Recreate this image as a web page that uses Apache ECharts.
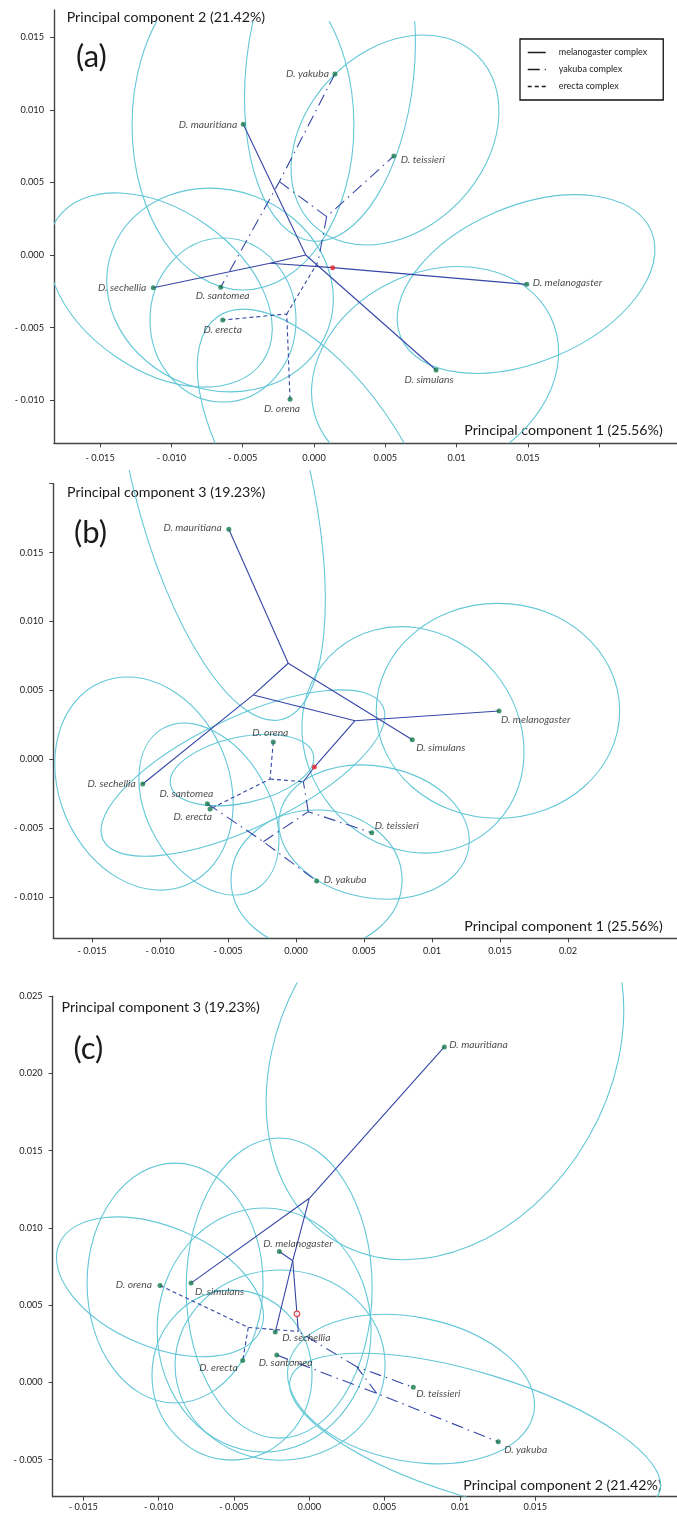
<!DOCTYPE html>
<html><head><meta charset="utf-8">
<script src="https://cdn.jsdelivr.net/npm/echarts@6/dist/echarts.min.js"></script>
<style>html,body{margin:0;padding:0;background:#fff}#c{width:677px;height:1515px}</style>
</head><body><div id="c"></div>
<script>
var speciesKeys = ['mel','sim','mau','sec','yak','tei','san','ere','ore'];
var speciesNames = ['D. melanogaster','D. simulans','D. mauritiana','D. sechellia','D. yakuba','D. teissieri','D. santomea','D. erecta','D. orena'];
var complexNames = ['melanogaster complex','yakuba complex','erecta complex'];

// ---------- panel (a): PC1 x PC2 ----------
var aX = [0.01492, 0.00856, -0.00496, -0.01127, 0.00147, 0.00560, -0.00654, -0.00640, -0.00168];
var aY = [-0.00202, -0.00792, 0.00900, -0.00225, 0.01247, 0.00682, -0.00222, -0.00448, -0.00994];
var aRed = [0.00131, -0.00087];
var aNodes = {N1:[-0.00058,0.0], N2:[-0.00309,-0.00057], Y1:[-0.00243,0.00505], Y2:[0.00089,0.00264], R:[0.00028,-0.00048], E1:[-0.00191,-0.00406]};
// ellipses: [cx, cy, semi-axis a, semi-axis b, angle deg]
var aEll = [
 [0.00568, 0.00792, 0.00827, 0.00624, 46],
 [0.01487, -0.00200, 0.00954, 0.00547, 23],
 [0.00849, -0.00806, 0.00898, 0.00701, 25],
 [0.00028, -0.01412, 0.01227, 0.00575, -55],
 [-0.00498, 0.00895, 0.00778, 0.01157, 0],
 [0.00112, 0.01274, 0.01206, 0.00589, 84],
 [-0.01080, -0.00241, 0.00877, 0.00561, -35],
 [-0.00659, -0.00241, 0.00806, 0.00701, -20],
 [-0.00638, -0.00448, 0.00512, 0.00575, 0]
];
var aPaths = [
 [['mau','N1'],['sec','N2','N1'],['N1','sim'],['N2','red','mel']],
 [['yak','Y1','san'],['Y1','Y2','tei'],['Y2','R']],
 [['ore','E1','ere'],['E1','R']]
];
var xTicksA = [-0.015,-0.01,-0.005,0,0.005,0.01,0.015,0.02];
var xLabA = ['- 0.015','- 0.010','- 0.005','0.000','0.005','0.01','0.015',''];
var yTicksA = [-0.01,-0.005,0,0.005,0.01,0.015];
var yLabA = ['- 0.010','- 0.005','0.000','0.005','0.010','0.015'];

// ---------- panel (b): PC1 x PC3 ----------
var bX = [0.01493, 0.00855, -0.00494, -0.01127, 0.00152, 0.00557, -0.00652, -0.00632, -0.00167];
var bY = [0.00351, 0.00142, 0.01669, -0.00179, -0.00883, -0.00533, -0.00322, -0.00361, 0.00126];
var bRed = [0.00135, -0.00056];
var bNodes = {B1:[-0.00057,0.00697], B2:[-0.00314,0.00467], B3:[0.00434,0.0028], R:[0.00054,-0.00163], E1:[-0.00191,-0.00143], Y1:[-0.0024,-0.00598], Y2:[0.0009,-0.0038]};
var bEll = [
 [0.01485, 0.00352, 0.00895, 0.00790, 0],
 [0.00860, 0.00141, 0.00868, 0.00779, -50],
 [0.00574, -0.00528, 0.00706, 0.00485, -10],
 [0.00151, -0.00876, 0.00629, 0.00515, 0],
 [-0.01118, -0.00176, 0.00809, 0.00624, -67],
 [-0.00640, -0.00361, 0.00683, 0.00445, -60],
 [-0.00390, -0.00100, 0.01140, 0.00404, 25.5],
 [-0.00397, -0.00078, 0.00537, 0.00243, 12],
 [-0.00559, 0.02085, 0.01875, 0.00647, 104]
];
var bPaths = [
 [['mau','B1'],['B1','B2','sec'],['B1','sim'],['B2','B3'],['B3','mel'],['B3','red','R']],
 [['san','Y1','yak'],['Y1','Y2','tei'],['Y2','R']],
 [['ore','E1','ere'],['E1','R']]
];
var xTicksB = [-0.015,-0.01,-0.005,0,0.005,0.01,0.015,0.02];
var xLabB = ['- 0.015','- 0.010','- 0.005','0.000','0.005','0.01','0.015','0.02'];
var yTicksB = [-0.01,-0.005,0,0.005,0.01,0.015,0.02];
var yLabB = ['- 0.010','- 0.005','0.000','0.005','0.010','0.015',''];

// ---------- panel (c): PC2 x PC3 ----------
var cX = [-0.00199, -0.00785, 0.00896, -0.00226, 0.01254, 0.00690, -0.00216, -0.00442, -0.00991];
var cY = [0.00848, 0.00643, 0.02172, 0.00326, -0.00385, -0.00032, 0.00177, 0.00142, 0.00628];
var cRed = [-0.00082, 0.00444];
var cNodes = {C1:[0.0,0.01192], C2:[-0.0011,0.00788], R:[-0.00073,0.0033], E1:[-0.00405,0.00356], Y1:[0.00447,-0.00071], Y2:[0.00315,0.00101]};
var cEll = [
 [0.00900, 0.02113, 0.01427, 0.01095, 60],
 [-0.00200, 0.00611, 0.00996, 0.00617, 90],
 [-0.00891, 0.00643, 0.00796, 0.00584, 90],
 [-0.00991, 0.00619, 0.00727, 0.00398, -23],
 [-0.00300, 0.00339, 0.00810, 0.00710, 90],
 [-0.00194, 0.00112, 0.00697, 0.00631, 0],
 [-0.00513, 0.00047, 0.00564, 0.00531, 90],
 [0.00675, -0.00043, 0.00830, 0.00478, -11],
 [0.01100, -0.00341, 0.01281, 0.00411, -17]
];
var cPaths = [
 [['mau','C1'],['C1','sim'],['C1','C2','sec'],['mel','C2'],['C2','red','R']],
 [['san','Y1','yak'],['Y1','Y2','tei'],['Y2','R']],
 [['ore','E1','ere'],['E1','R']]
];
var xTicksC = [-0.015,-0.01,-0.005,0,0.005,0.01,0.015];
var xLabC = ['- 0.015','- 0.010','- 0.005','0.000','0.005','0.01','0.015'];
var yTicksC = [-0.005,0,0.005,0.01,0.015,0.02,0.025];
var yLabC = ['- 0.005','0.000','0.005','0.010','0.015','0.020','0.025'];

// ---------- layout / style (not data) ----------
var ELL = '#62c7d7', TREE = '#3646a6', GREEN = '#177b4d', RED = '#e3262b', AX = '#444';
var FONT = 'Lato, "Open Sans", sans-serif';
var lineTypes = ['solid', [12,5,1.5,5], [4,3]];
var labPos = [
 {mel:['left',6,-2], sim:['center',-7,10], mau:['right',-6,0], sec:['right',-7,0], yak:['right',-6,0], tei:['left',7,4], san:['center',2,8], ere:['center',0,10], ore:['center',-8,9]},
 {mel:['left',2,9], sim:['left',4,8], mau:['right',-7,-2], sec:['right',-7,0], yak:['left',7,-1], tei:['left',3,-7], san:['right',6,-10], ere:['right',2,8], ore:['center',-3,-9]},
 {mel:['left',-16,-8], sim:['left',4,9], mau:['left',5,-2], sec:['left',7,6], yak:['left',6,8], tei:['left',3,6], san:['left',-18,8], ere:['right',-5,7], ore:['right',-8,-1]}
];

var panels = [
 {grid:{left:54, top:10, width:623, height:433.3}, xr:[-0.018233,0.025456], yr:[-0.012968,0.016873], clipTop:0.0161,
  X:aX, Y:aY, red:aRed, nodes:aNodes, ell:aEll, paths:aPaths, xt:xTicksA, xl:xLabA, yt:yTicksA, yl:yLabA, xm:10, redHollow:false},
 {grid:{left:53.3, top:483.7, width:623.7, height:454.6}, xr:[-0.017846,0.028015], yr:[-0.01299,0.02], clipTop:0.021,
  X:bX, Y:bY, red:bRed, nodes:bNodes, ell:bEll, paths:bPaths, xt:xTicksB, xl:xLabB, yt:yTicksB, yl:yLabB, xm:8, redHollow:false},
 {grid:{left:52.7, top:996.3, width:624.3, height:500.4}, xr:[-0.01703,0.0244], yr:[-0.0074,0.025], clipTop:0.0259,
  X:cX, Y:cY, red:cRed, nodes:cNodes, ell:cEll, paths:cPaths, xt:xTicksC, xl:xLabC, yt:yTicksC, yl:yLabC, xm:6, redHollow:true}
];

function fmt(ticks, labs){
  return function(v){
    for (var i=0;i<ticks.length;i++){ if (Math.abs(v-ticks[i])<1e-9) return labs[i]; }
    return '';
  };
}
function resolve(p, key){
  var i = speciesKeys.indexOf(key);
  if (i>=0) return [p.X[i], p.Y[i]];
  if (key==='red') return p.red;
  return p.nodes[key];
}
function ellRender(clipTop){
  return function(params, api){
    var c = api.coord([api.value(0), api.value(1)]);
    var a = api.size([api.value(2), 0])[0];
    var b = api.size([api.value(3), 0])[0];
    var ang = api.value(4) * Math.PI / 180;
    var cs = params.coordSys;
    var ty = api.coord([0, clipTop])[1];
    var bottom = cs.y + cs.height;
    return {
      type:'group',
      clipPath:{type:'rect', shape:{x:cs.x, y:ty, width:cs.width, height:bottom - ty}},
      children:[{
        type:'ellipse', x:c[0], y:c[1], rotation:ang,
        shape:{cx:0, cy:0, rx:a, ry:b},
        style:{fill:null, stroke:ELL, lineWidth:1.1}
      }]
    };
  };
}

var grids=[], xAxes=[], yAxes=[], series=[];
panels.forEach(function(p, k){
  grids.push(p.grid);
  xAxes.push({
    type:'value', gridIndex:k, min:p.xr[0], max:p.xr[1], splitLine:{show:false},
    axisLine:{show:true, onZero:false, lineStyle:{color:AX, width:1.4}},
    axisTick:{show:true, inside:false, length:4, customValues:p.xt, lineStyle:{color:AX, width:1}},
    axisLabel:{customValues:p.xt, formatter:fmt(p.xt,p.xl), margin:p.xm, color:'#222', fontFamily:FONT, fontSize:9.2}
  });
  yAxes.push({
    type:'value', gridIndex:k, min:p.yr[0], max:p.yr[1], splitLine:{show:false},
    axisLine:{show:true, onZero:false, lineStyle:{color:AX, width:1.4}},
    axisTick:{show:true, inside:false, length:4, customValues:p.yt, lineStyle:{color:AX, width:1}},
    axisLabel:{customValues:p.yt, formatter:fmt(p.yt,p.yl), margin:10, color:'#222', fontFamily:FONT, fontSize:9.2}
  });
  series.push({
    type:'custom', xAxisIndex:k, yAxisIndex:k, renderItem:ellRender(p.clipTop),
    data:p.ell, encode:{x:0, y:1}, z:1, silent:true, animation:false
  });
  p.paths.forEach(function(group, gi){
    group.forEach(function(path){
      series.push({
        type:'line', name:complexNames[gi], xAxisIndex:k, yAxisIndex:k,
        data:path.map(function(key){ return resolve(p,key); }),
        symbol:'none', silent:true, animation:false, z:2,
        itemStyle:{color:TREE},
        lineStyle:{color:TREE, width:1.1, type:lineTypes[gi]}
      });
    });
  });
  var lp = labPos[k];
  series.push({
    type:'scatter', xAxisIndex:k, yAxisIndex:k, z:3, silent:true, animation:false,
    symbol:'circle', symbolSize:5, itemStyle:{color:GREEN},
    data:speciesKeys.map(function(key,i){
      var L = lp[key];
      return {value:[p.X[i],p.Y[i]], name:speciesNames[i],
        label:{show:true, position:'inside', formatter:speciesNames[i], align:L[0], verticalAlign:'middle',
               offset:[L[1],L[2]], color:'#222', fontStyle:'italic', fontFamily:FONT, fontSize:10.3}};
    })
  });
  series.push({
    type:'scatter', xAxisIndex:k, yAxisIndex:k, z:4, silent:true, animation:false,
    symbol:'circle', symbolSize:p.redHollow?5.5:5,
    itemStyle:p.redHollow?{color:'#fff', borderColor:RED, borderWidth:1.3}:{color:RED},
    data:[p.red]
  });
});

function txt(x,y,s,size,align){
  return {type:'text', x:x, y:y, silent:true,
    style:{text:s, font:size+'px '+FONT, fill:'#1a1a1a', align:align||'left', verticalAlign:'middle'}};
}
var graphics = [
  txt(66.7,17,'Principal component 2 (21.42%)',14.2),
  txt(76,57,'(a)',31),
  txt(662.7,430,'Principal component 1 (25.56%)',14.2,'right'),
  txt(67,492,'Principal component 3 (19.23%)',14.2),
  txt(74,533,'(b)',31),
  txt(662.7,926.7,'Principal component 1 (25.56%)',14.2,'right'),
  txt(61.5,1007,'Principal component 3 (19.23%)',14.2),
  txt(73.5,1049,'(c)',31),
  txt(661.7,1485,'Principal component 2 (21.42%)',14.2,'right')
];

var chart = echarts.init(document.getElementById('c'));
chart.setOption({
  animation:false,
  backgroundColor:'#fff',
  grid:grids, xAxis:xAxes, yAxis:yAxes, series:series,
  legend:{
    data:complexNames, orient:'vertical', left:520, top:39,
    padding:[9,16,9,7], itemGap:8, itemWidth:18, itemHeight:10,
    borderColor:'#111', borderWidth:1.3, backgroundColor:'#fff',
    selectedMode:false,
    itemStyle:{opacity:0, borderWidth:0, color:'rgba(0,0,0,0)'},
    lineStyle:{color:'#1a1a1a', width:1.5},
    textStyle:{fontFamily:FONT, fontSize:9, color:'#222', padding:[0,0,0,8]}
  },
  graphic:graphics
});
</script>
</body></html>
